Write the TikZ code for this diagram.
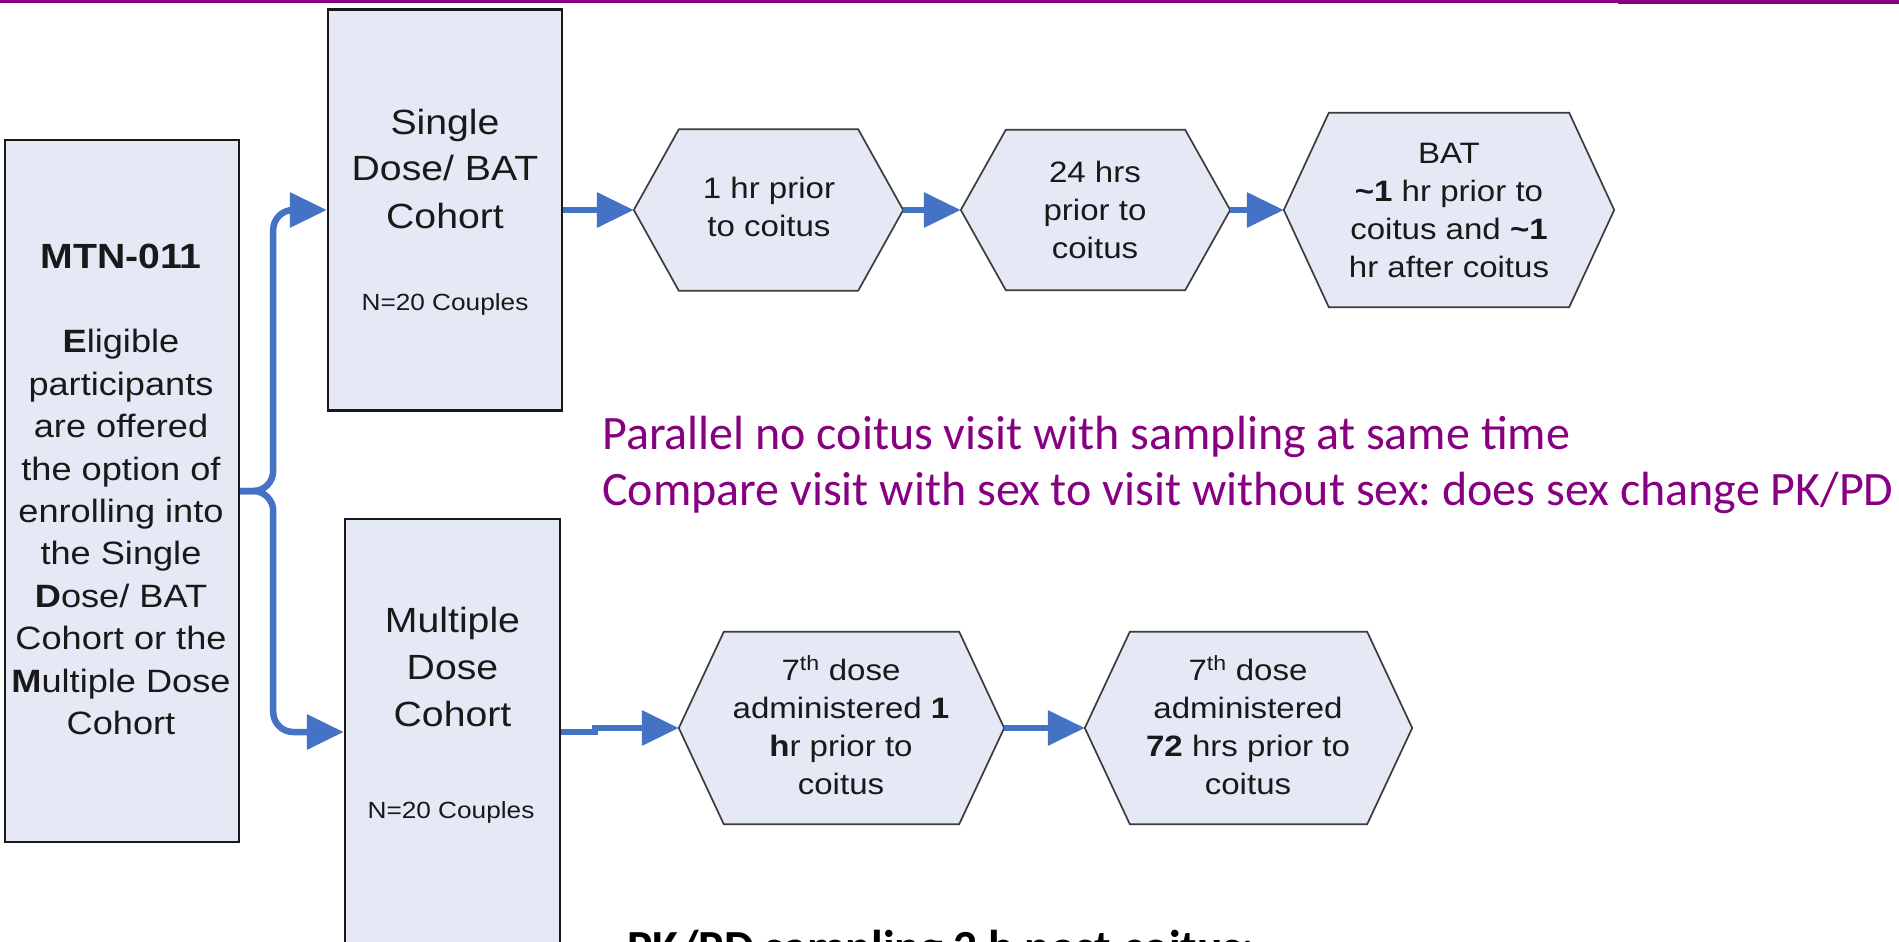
\documentclass[tikz,border=0pt]{standalone}
\usepackage{fontspec}
\newfontfamily\diagfont[FakeStretch=1.12]{Liberation Sans}
\newfontfamily\calfont{Carlito}
\usetikzlibrary{arrows.meta}
\definecolor{boxfill}{RGB}{229,233,245}
\definecolor{flowblue}{RGB}{68,114,196}
\definecolor{purp}{RGB}{135,0,130}
\definecolor{ink}{RGB}{25,25,25}
\frenchspacing
\newcommand{\stackc}[1]{\begin{tabular}[t]{@{}c@{}}#1\end{tabular}}
\newcommand{\stackl}[1]{\begin{tabular}[t]{@{}l@{}}#1\end{tabular}}
\newcommand{\hexpath}[1]{\path[hexline] (#1.west) -- ([xshift=45pt]#1.north west) -- ([xshift=-45pt]#1.north east) -- (#1.east) -- ([xshift=-45pt]#1.south east) -- ([xshift=45pt]#1.south west) -- cycle;}
\begin{document}
\begin{tikzpicture}[x=1pt,y=-1pt,
  cohort/.style={draw=ink,line width=2.4pt,fill=boxfill,inner sep=0pt},
  hexbox/.style={inner sep=0pt,draw=none},
  hexline/.style={draw=ink!85,line width=1.7pt,fill=boxfill,line join=miter},
  flow/.style={draw=flowblue,line width=6.5pt,-{Triangle[length=37pt,width=34pt]}},
  txt/.style={inner sep=0pt,anchor=base,text=ink},
  boxtxt/.style={txt,font=\diagfont\fontsize{35}{47}\selectfont},
  hextxt/.style={txt,font=\diagfont\fontsize{29.5}{38}\selectfont},
  ntxt/.style={txt,font=\diagfont\fontsize{23.4}{28}\selectfont},
]
\useasboundingbox (0,0) rectangle (1899,942);
\fill[white] (0,0) rectangle (1899,942);
% top bar
\fill[purp] (0,0) rectangle (1899,3);
\fill[purp] (1618,0) rectangle (1899,4.2);

% boxes
\node[cohort,minimum width=234pt,minimum height=702pt] (mtn) at (122,491) {};
\node[cohort,minimum width=234pt,minimum height=401pt] (single) at (445,210) {};
\node[cohort,minimum width=215pt,minimum height=426pt] (mult) at (452.5,732) {};

% hexagons
\node[hexbox,minimum width=269pt,minimum height=161pt] (h1) at (768.5,210) {};
\node[hexbox,minimum width=269pt,minimum height=160pt] (h2) at (1095.5,210) {};
\node[hexbox,minimum width=330pt,minimum height=194pt] (h3) at (1449,210) {};
\node[hexbox,minimum width=325pt,minimum height=192pt] (h4) at (841.5,728) {};
\node[hexbox,minimum width=327pt,minimum height=192pt] (h5) at (1248.5,728) {};
\hexpath{h1}
\hexpath{h2}
\hexpath{h3}
\hexpath{h4}
\hexpath{h5}

% texts
\node[txt,font=\diagfont\fontsize{32.3}{42.4}\selectfont] (mtnt) at (121,268)
  {\stackc{{\fontsize{35}{42.4}\selectfont\bfseries MTN-011}\\ \\ \textbf{E}ligible\\participants\\are offered\\the option of\\enrolling into\\the Single\\\textbf{D}ose/ BAT\\Cohort or the\\\textbf{M}ultiple Dose\\Cohort}};
\node[boxtxt] (singlet) at (445,134) {\stackc{Single\\Dose/ BAT\\Cohort}};
\node[ntxt] (singlen) at (445,310) {N=20 Couples};
\node[boxtxt] (multt) at (452.5,632) {\stackc{Multiple\\Dose\\Cohort}};
\node[ntxt] (multn) at (451,818) {N=20 Couples};

\node[hextxt] (h1t) at (769,198) {\stackc{1 hr prior\\to coitus}};
\node[hextxt] (h2t) at (1095,182) {\stackc{24 hrs\\prior to\\coitus}};
\node[hextxt] (h3t) at (1449,163) {\stackc{BAT\\\textbf{\textasciitilde 1} hr prior to\\coitus and \textbf{\textasciitilde 1}\\hr after coitus}};
\node[hextxt] (h4t) at (841,680) {\stackc{7\textsuperscript{th} dose\\administered \textbf{1}\\\textbf{h}r prior to\\coitus}};
\node[hextxt] (h5t) at (1248,680) {\stackc{7\textsuperscript{th} dose\\administered\\\textbf{72} hrs prior to\\coitus}};

% connectors
\draw[flow,rounded corners=20pt] (mtn.east) -- ++(33,0) |- (single.west);
\draw[flow,rounded corners=20pt] (mtn.east) -- ++(33,0) |- (mult.west);
\draw[flow] (single.east) -- (h1.west);
\draw[flow] (h1.east) -- (h2.west);
\draw[flow] (h2.east) -- (h3.west);
\draw[flow] (mult.east) -- ++(34,0) |- (h4.west);
\draw[flow] (h4.east) -- (h5.west);

% notes
\node[inner sep=0pt,anchor=base west,text=purp,font=\calfont\fontsize{48}{56}\selectfont] (note) at (602,449)
  {\stackl{Parallel no coitus visit with sampling at same time\\Compare visit with sex to visit without sex: does sex change PK/PD}};
\node[inner sep=0pt,anchor=base west,text=black,font=\calfont\bfseries\fontsize{47.5}{56}\selectfont] (pkpd) at (627,963)
  {PK/PD sampling 2 h post-coitus:};
\end{tikzpicture}
\end{document}
